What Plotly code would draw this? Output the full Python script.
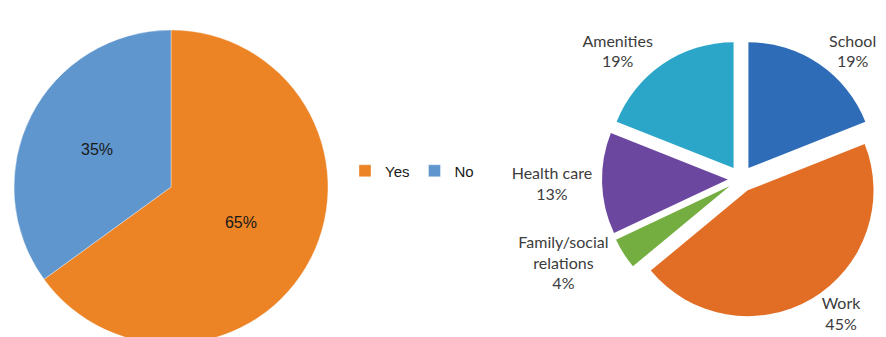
import plotly.graph_objects as go

# page has an 8px body margin; figure is shifted by OFF px and its overflow is cropped
W, H = 886, 337
OFF = 8

# Left pie data
yn_labels = ["Yes", "No"]
yn_values = [65, 35]
yn_colors = ["#EC8426", "#5F96CD"]

# Right pie data
reason_labels = ["School", "Work", "Family/social<br>relations", "Health care", "Amenities"]
reason_values = [19, 45, 4, 13, 19]
reason_colors = ["#2E6CB8", "#E26D24", "#74AE40", "#6C47A0", "#2CA6C8"]


def dom(cx, cy, half):
    """domain (paper fractions) for a square box centred on screen point (cx, cy)."""
    fx, fy = cx - OFF, cy - OFF
    return dict(x=[(fx - half) / W, (fx + half) / W],
                y=[(H - (fy + half)) / H, (H - (fy - half)) / H])


fig = go.Figure()

fig.add_trace(go.Pie(
    labels=yn_labels, values=yn_values, sort=False, direction="clockwise", rotation=0,
    marker=dict(colors=yn_colors, line=dict(width=0.6, color="rgba(255,255,255,0.6)")),
    texttemplate="%{value}%", textposition="inside",
    insidetextorientation="horizontal",
    textfont=dict(family="Liberation Sans", size=16, color="#1a1a1a"),
    domain=dom(171, 187, 157), automargin=False,
    showlegend=True, hoverinfo="label+percent",
))

fig.add_trace(go.Pie(
    labels=reason_labels, values=reason_values, sort=False, direction="clockwise", rotation=0,
    marker=dict(colors=reason_colors, line=dict(width=0)),
    pull=[0.105] * len(reason_values),
    texttemplate="%{label}<br>%{value}%", textposition="outside",
    textfont=dict(family="Lato", size=16, color="#3c3c3c"),
    domain=dom(741, 179, 139), automargin=False,
    showlegend=False, hoverinfo="label+percent",
))

fig.update_layout(
    width=W, height=H, margin=dict(l=0, r=0, t=0, b=0, autoexpand=False),
    paper_bgcolor="white", plot_bgcolor="white",
    legend=dict(orientation="h", x=(345 - OFF) / W, y=(H - (171 - OFF)) / H,
                xanchor="left", yanchor="middle",
                font=dict(family="Liberation Sans", size=15, color="#1a1a1a"),
                itemwidth=30, traceorder="normal"),
)

fig.write_html("out.html")
